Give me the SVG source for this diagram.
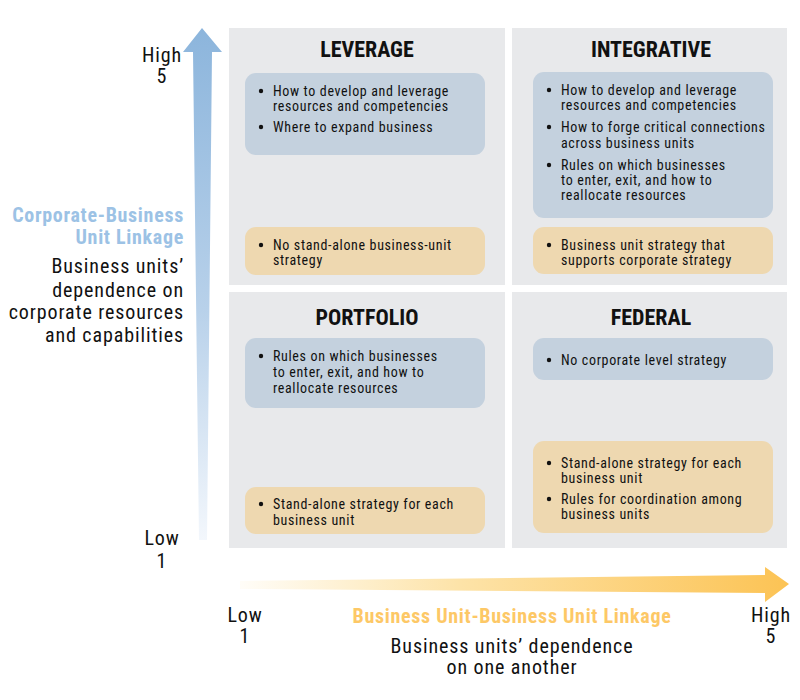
<svg xmlns="http://www.w3.org/2000/svg" width="800" height="700" viewBox="0 0 800 700">
<defs>
<style>
text{font-family:"Liberation Sans Narrow","Roboto Condensed","DejaVu Sans Condensed","Liberation Sans",sans-serif;font-stretch:condensed;fill:#111;}
.quad{fill:#e8e9eb;}
.blue{fill:#c4d1de;}
.tan{fill:#eed8b0;}
.title{font-size:22px;font-weight:bold;text-anchor:middle;}
.body{font-size:14px;letter-spacing:0.65px;}
.dot{fill:#111;}
.axr{font-size:20px;letter-spacing:0.9px;text-anchor:end;}
.axm{font-size:20px;letter-spacing:0.9px;text-anchor:middle;}
.bl{font-size:20px;letter-spacing:0.7px;font-weight:bold;fill:#9cc2e5;text-anchor:end;}
.or{font-size:20px;letter-spacing:0.7px;font-weight:bold;fill:#fdc866;text-anchor:middle;}
</style>
<linearGradient id="gv" gradientUnits="userSpaceOnUse" x1="0" y1="28" x2="0" y2="540">
<stop offset="0" stop-color="#8cb5dc"/>
<stop offset="0.55" stop-color="#b8d1ea"/>
<stop offset="1" stop-color="#f3f7fc"/>
</linearGradient>
<linearGradient id="gh" gradientUnits="userSpaceOnUse" x1="240" y1="0" x2="790" y2="0">
<stop offset="0" stop-color="#fffdf8"/>
<stop offset="0.4" stop-color="#fde3a8"/>
<stop offset="1" stop-color="#fcc354"/>
</linearGradient>
</defs>
<rect width="800" height="700" fill="#fff"/>

<g id="axes">
<polygon points="202,28 222,52 212,52 207,540 199,540 193,52 183,52" fill="url(#gv)"/>
<polygon points="240,581 765,575 765,567 789,584 765,602 765,593 240,589" fill="url(#gh)"/>
</g>

<g id="y-axis-labels">
<text class="axm" x="162" y="62">High</text>
<text class="axm" x="162" y="83">5</text>
<text class="axm" x="162" y="545">Low</text>
<text class="axm" x="162" y="568">1</text>
<text class="bl" x="184" y="222">Corporate-Business</text>
<text class="bl" x="184" y="244">Unit Linkage</text>
<text class="axr" x="184" y="273">Business units’</text>
<text class="axr" x="184" y="297">dependence on</text>
<text class="axr" x="184" y="319">corporate resources</text>
<text class="axr" x="184" y="342">and capabilities</text>
</g>

<g id="x-axis-labels">
<text class="axm" x="245" y="622">Low</text>
<text class="axm" x="245" y="643">1</text>
<text class="axm" x="771" y="622">High</text>
<text class="axm" x="771" y="643">5</text>
<text class="or" x="512" y="623">Business Unit-Business Unit Linkage</text>
<text class="axm" x="512" y="653">Business units’ dependence</text>
<text class="axm" x="512" y="674">on one another</text>
</g>

<g id="leverage">
<rect class="quad" x="229" y="28" width="276" height="257"/>
<text class="title" x="367" y="57">LEVERAGE</text>
<rect class="blue" x="245" y="73" width="240" height="82" rx="11"/>
<circle class="dot" cx="261" cy="91" r="2.2"/>
<text class="body" x="273" y="96">How to develop and leverage</text>
<text class="body" x="273" y="111">resources and competencies</text>
<circle class="dot" cx="261" cy="127" r="2.2"/>
<text class="body" x="273" y="132">Where to expand business</text>
<rect class="tan" x="245" y="227" width="240" height="48" rx="11"/>
<circle class="dot" cx="261" cy="245" r="2.2"/>
<text class="body" x="273" y="250">No stand-alone business-unit</text>
<text class="body" x="273" y="265">strategy</text>
</g>

<g id="integrative">
<rect class="quad" x="512" y="28" width="275" height="257"/>
<text class="title" x="651" y="57">INTEGRATIVE</text>
<rect class="blue" x="533" y="72" width="240" height="146" rx="11"/>
<circle class="dot" cx="549" cy="90" r="2.2"/>
<text class="body" x="561" y="95">How to develop and leverage</text>
<text class="body" x="561" y="110">resources and competencies</text>
<circle class="dot" cx="549" cy="127" r="2.2"/>
<text class="body" x="561" y="132">How to forge critical connections</text>
<text class="body" x="561" y="148">across business units</text>
<circle class="dot" cx="549" cy="165" r="2.2"/>
<text class="body" x="561" y="170">Rules on which businesses</text>
<text class="body" x="561" y="185">to enter, exit, and how to</text>
<text class="body" x="561" y="200">reallocate resources</text>
<rect class="tan" x="533" y="227" width="240" height="47" rx="11"/>
<circle class="dot" cx="549" cy="245" r="2.2"/>
<text class="body" x="561" y="250">Business unit strategy that</text>
<text class="body" x="561" y="265">supports corporate strategy</text>
</g>

<g id="portfolio">
<rect class="quad" x="229" y="292" width="276" height="256"/>
<text class="title" x="367" y="325">PORTFOLIO</text>
<rect class="blue" x="245" y="338" width="240" height="70" rx="11"/>
<circle class="dot" cx="261" cy="356" r="2.2"/>
<text class="body" x="273" y="361">Rules on which businesses</text>
<text class="body" x="273" y="377">to enter, exit, and how to</text>
<text class="body" x="273" y="393">reallocate resources</text>
<rect class="tan" x="245" y="487" width="240" height="47" rx="11"/>
<circle class="dot" cx="261" cy="504" r="2.2"/>
<text class="body" x="273" y="509">Stand-alone strategy for each</text>
<text class="body" x="273" y="525">business unit</text>
</g>

<g id="federal">
<rect class="quad" x="512" y="292" width="275" height="256"/>
<text class="title" x="651" y="325">FEDERAL</text>
<rect class="blue" x="533" y="338" width="240" height="42" rx="11"/>
<circle class="dot" cx="549" cy="360" r="2.2"/>
<text class="body" x="561" y="365">No corporate level strategy</text>
<rect class="tan" x="533" y="441" width="240" height="92" rx="11"/>
<circle class="dot" cx="549" cy="463" r="2.2"/>
<text class="body" x="561" y="468">Stand-alone strategy for each</text>
<text class="body" x="561" y="483">business unit</text>
<circle class="dot" cx="549" cy="499" r="2.2"/>
<text class="body" x="561" y="504">Rules for coordination among</text>
<text class="body" x="561" y="519">business units</text>
</g>
</svg>
